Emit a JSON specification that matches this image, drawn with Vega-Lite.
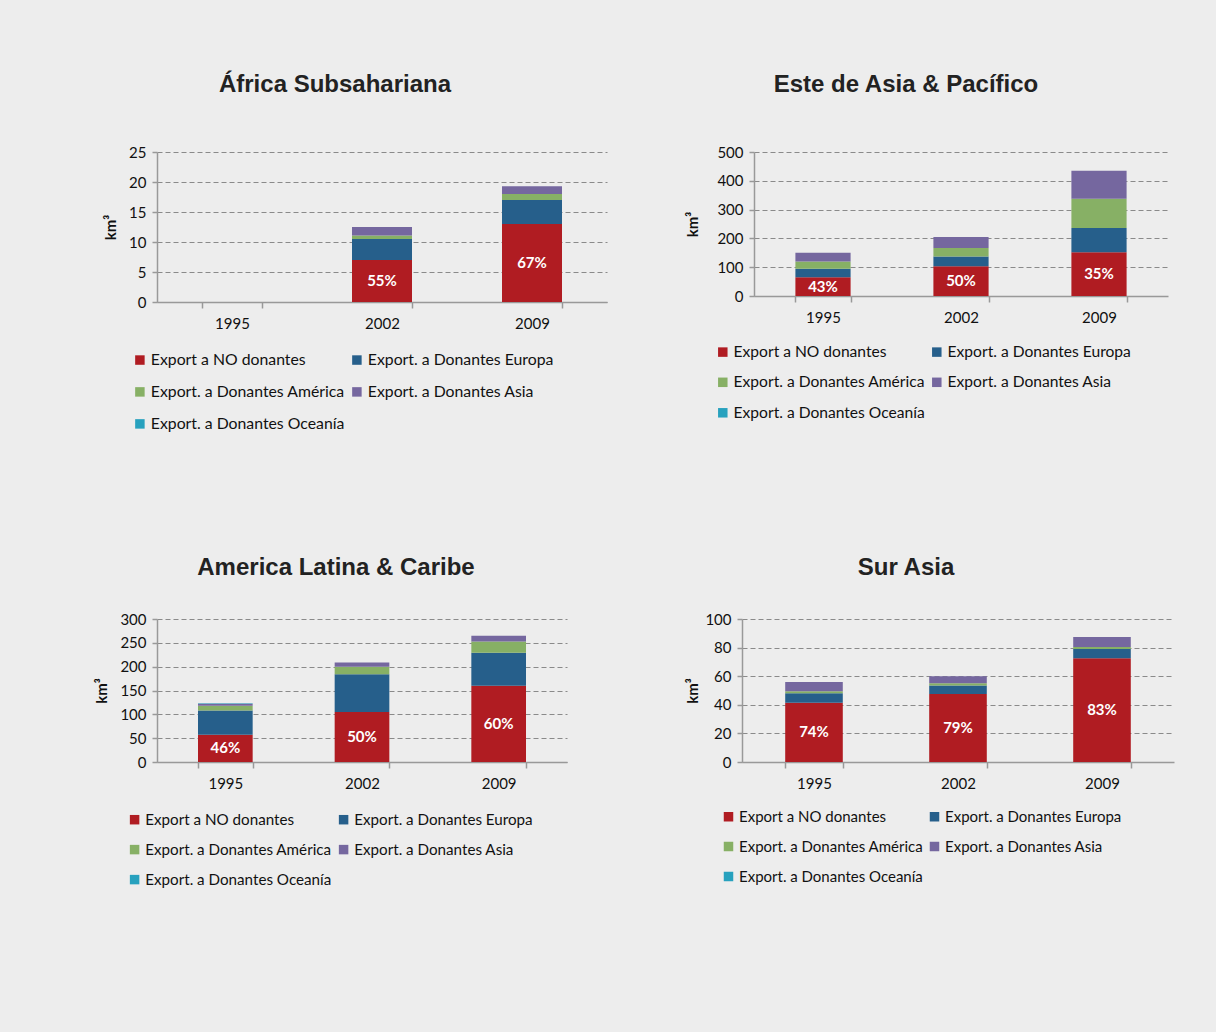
{
  "$schema": "https://vega.github.io/schema/vega-lite/v6.json",
  "background": "#ededed",
  "padding": {"left": 94, "top": 73, "right": 42, "bottom": 148},
  "config": {
    "view": {"stroke": null},
    "font": "Lato",
    "title": {"font": "Liberation Sans", "fontSize": 24, "fontWeight": "bold", "color": "#222222", "anchor": "middle", "offset": 48},
    "axis": {"labelFont": "Lato", "labelFontSize": 15, "labelColor": "#111111", "domainColor": "#999999", "domainWidth": 1.5, "tickColor": "#999999", "tickWidth": 1.5, "titleFont": "Lato", "titleFontSize": 15, "titleFontWeight": "bold", "titleColor": "#111111", "labelOverlap": false},
    "axisX": {"tickBand": "extent", "tickSize": 6, "labelPadding": 8, "grid": false, "labelAngle": 0},
    "axisY": {"grid": true, "gridColor": "#8a8a8a", "gridDash": [5, 3], "gridWidth": 1.2, "tickSize": 5, "labelPadding": 6, "titlePadding": 10},
    "legend": {"orient": "none", "direction": "horizontal", "columns": 2, "symbolType": "square", "symbolSize": 90, "symbolStrokeWidth": 0, "labelFont": "Lato", "labelFontSize": 16, "labelColor": "#111111", "labelOffset": 3, "rowPadding": 15, "columnPadding": 1, "labelLimit": 400}
  },
  "datasets": {
    "d": [
      {"r": "A", "y": "2002", "s": "Export a NO donantes", "k": 1, "v": 7, "p": "55%"},
      {"r": "A", "y": "2002", "s": "Export. a Donantes Europa", "k": 2, "v": 3.5},
      {"r": "A", "y": "2002", "s": "Export. a Donantes América", "k": 3, "v": 0.6},
      {"r": "A", "y": "2002", "s": "Export. a Donantes Asia", "k": 4, "v": 1.4},
      {"r": "A", "y": "2002", "s": "Export. a Donantes  Oceanía", "k": 5, "v": 0},
      {"r": "A", "y": "2009", "s": "Export a NO donantes", "k": 1, "v": 13, "p": "67%"},
      {"r": "A", "y": "2009", "s": "Export. a Donantes Europa", "k": 2, "v": 4},
      {"r": "A", "y": "2009", "s": "Export. a Donantes América", "k": 3, "v": 1},
      {"r": "A", "y": "2009", "s": "Export. a Donantes Asia", "k": 4, "v": 1.3},
      {"r": "A", "y": "2009", "s": "Export. a Donantes  Oceanía", "k": 5, "v": 0},

      {"r": "B", "y": "1995", "s": "Export a NO donantes", "k": 1, "v": 65, "p": "43%"},
      {"r": "B", "y": "1995", "s": "Export. a Donantes Europa", "k": 2, "v": 30},
      {"r": "B", "y": "1995", "s": "Export. a Donantes América", "k": 3, "v": 25},
      {"r": "B", "y": "1995", "s": "Export. a Donantes Asia", "k": 4, "v": 30},
      {"r": "B", "y": "1995", "s": "Export. a Donantes  Oceanía", "k": 5, "v": 0},
      {"r": "B", "y": "2002", "s": "Export a NO donantes", "k": 1, "v": 103, "p": "50%"},
      {"r": "B", "y": "2002", "s": "Export. a Donantes Europa", "k": 2, "v": 34},
      {"r": "B", "y": "2002", "s": "Export. a Donantes América", "k": 3, "v": 30},
      {"r": "B", "y": "2002", "s": "Export. a Donantes Asia", "k": 4, "v": 38},
      {"r": "B", "y": "2002", "s": "Export. a Donantes  Oceanía", "k": 5, "v": 0},
      {"r": "B", "y": "2009", "s": "Export a NO donantes", "k": 1, "v": 152, "p": "35%"},
      {"r": "B", "y": "2009", "s": "Export. a Donantes Europa", "k": 2, "v": 84},
      {"r": "B", "y": "2009", "s": "Export. a Donantes América", "k": 3, "v": 102},
      {"r": "B", "y": "2009", "s": "Export. a Donantes Asia", "k": 4, "v": 97},
      {"r": "B", "y": "2009", "s": "Export. a Donantes  Oceanía", "k": 5, "v": 0},

      {"r": "C", "y": "1995", "s": "Export a NO donantes", "k": 1, "v": 57, "p": "46%"},
      {"r": "C", "y": "1995", "s": "Export. a Donantes Europa", "k": 2, "v": 51},
      {"r": "C", "y": "1995", "s": "Export. a Donantes América", "k": 3, "v": 10},
      {"r": "C", "y": "1995", "s": "Export. a Donantes Asia", "k": 4, "v": 4},
      {"r": "C", "y": "1995", "s": "Export. a Donantes  Oceanía", "k": 5, "v": 1},
      {"r": "C", "y": "2002", "s": "Export a NO donantes", "k": 1, "v": 105, "p": "50%"},
      {"r": "C", "y": "2002", "s": "Export. a Donantes Europa", "k": 2, "v": 79},
      {"r": "C", "y": "2002", "s": "Export. a Donantes América", "k": 3, "v": 16},
      {"r": "C", "y": "2002", "s": "Export. a Donantes Asia", "k": 4, "v": 9},
      {"r": "C", "y": "2002", "s": "Export. a Donantes  Oceanía", "k": 5, "v": 0},
      {"r": "C", "y": "2009", "s": "Export a NO donantes", "k": 1, "v": 160, "p": "60%"},
      {"r": "C", "y": "2009", "s": "Export. a Donantes Europa", "k": 2, "v": 69},
      {"r": "C", "y": "2009", "s": "Export. a Donantes América", "k": 3, "v": 24},
      {"r": "C", "y": "2009", "s": "Export. a Donantes Asia", "k": 4, "v": 12},
      {"r": "C", "y": "2009", "s": "Export. a Donantes  Oceanía", "k": 5, "v": 0},

      {"r": "D", "y": "1995", "s": "Export a NO donantes", "k": 1, "v": 41.5, "p": "74%"},
      {"r": "D", "y": "1995", "s": "Export. a Donantes Europa", "k": 2, "v": 6.5},
      {"r": "D", "y": "1995", "s": "Export. a Donantes América", "k": 3, "v": 1.5},
      {"r": "D", "y": "1995", "s": "Export. a Donantes Asia", "k": 4, "v": 6.5},
      {"r": "D", "y": "1995", "s": "Export. a Donantes  Oceanía", "k": 5, "v": 0},
      {"r": "D", "y": "2002", "s": "Export a NO donantes", "k": 1, "v": 47.5, "p": "79%"},
      {"r": "D", "y": "2002", "s": "Export. a Donantes Europa", "k": 2, "v": 6},
      {"r": "D", "y": "2002", "s": "Export. a Donantes América", "k": 3, "v": 1.5},
      {"r": "D", "y": "2002", "s": "Export. a Donantes Asia", "k": 4, "v": 5},
      {"r": "D", "y": "2002", "s": "Export. a Donantes  Oceanía", "k": 5, "v": 0},
      {"r": "D", "y": "2009", "s": "Export a NO donantes", "k": 1, "v": 72.5, "p": "83%"},
      {"r": "D", "y": "2009", "s": "Export. a Donantes Europa", "k": 2, "v": 6.5},
      {"r": "D", "y": "2009", "s": "Export. a Donantes América", "k": 3, "v": 1.5},
      {"r": "D", "y": "2009", "s": "Export. a Donantes Asia", "k": 4, "v": 7},
      {"r": "D", "y": "2009", "s": "Export. a Donantes  Oceanía", "k": 5, "v": 0}
    ]
  },
  "data": {"name": "d"},
  "resolve": {"scale": {"x": "independent", "y": "independent", "color": "independent"}, "legend": {"color": "independent"}},
  "columns": 2,
  "align": "none",
  "spacing": {"row": 124, "column": 78},
  "concat": [
    {
      "title": {"text": "África Subsahariana", "dx": -47},
      "width": 450, "height": 150,
      "transform": [{"filter": "datum.r == 'A'"}],
      "encoding": {"x": {"field": "y", "type": "nominal", "title": null, "scale": {"domain": ["1995", "2002", "2009"], "paddingInner": 0.6, "paddingOuter": 0.3}}},
      "layer": [
        {"mark": {"type": "bar"},
         "encoding": {
           "y": {"field": "v", "type": "quantitative", "title": "km³", "scale": {"domain": [0, 25], "nice": false}, "axis": {"values": [0, 5, 10, 15, 20, 25]}},
           "color": {"field": "s", "type": "nominal", "scale": {"domain": ["Export a NO donantes", "Export. a Donantes Europa", "Export. a Donantes América", "Export. a Donantes Asia", "Export. a Donantes  Oceanía"], "range": ["#b01c22", "#265f8b", "#87b065", "#75679f", "#27a1be"]}, "legend": {"title": null, "legendX": -25, "legendY": 200, "labelFontSize": 15.8, "columnPadding": 0, "rowPadding": 15}},
           "order": {"field": "k", "type": "quantitative"}}},
        {"transform": [{"filter": "datum.p != null"}],
         "mark": {"type": "text", "color": "white", "fontWeight": "bold", "fontSize": 15, "font": "Lato", "baseline": "middle"},
         "encoding": {
           "y": {"field": "v", "type": "quantitative", "stack": "zero", "bandPosition": 0.5, "title": "km³", "axis": {"values": [0, 5, 10, 15, 20, 25]}},
           "detail": {"field": "s"},
           "text": {"field": "p"}}}
      ]
    },
    {
      "title": {"text": "Este de Asia & Pacífico", "dx": -55},
      "width": 414, "height": 144,
      "transform": [{"filter": "datum.r == 'B'"}],
      "encoding": {"x": {"field": "y", "type": "nominal", "title": null, "scale": {"domain": ["1995", "2002", "2009"], "paddingInner": 0.6, "paddingOuter": 0.3}}},
      "layer": [
        {"mark": {"type": "bar"},
         "encoding": {
           "y": {"field": "v", "type": "quantitative", "title": "km³", "scale": {"domain": [0, 500], "nice": false}, "axis": {"values": [0, 100, 200, 300, 400, 500], "titlePadding": 16}},
           "color": {"field": "s", "type": "nominal", "scale": {"domain": ["Export a NO donantes", "Export. a Donantes Europa", "Export. a Donantes América", "Export. a Donantes Asia", "Export. a Donantes  Oceanía"], "range": ["#b01c22", "#265f8b", "#87b065", "#75679f", "#27a1be"]}, "legend": {"title": null, "legendX": -39, "legendY": 192, "labelFontSize": 15.6, "columnPadding": -1, "rowPadding": 13.5}},
           "order": {"field": "k", "type": "quantitative"}}},
        {"transform": [{"filter": "datum.p != null"}],
         "mark": {"type": "text", "color": "white", "fontWeight": "bold", "fontSize": 15, "font": "Lato", "baseline": "middle"},
         "encoding": {
           "y": {"field": "v", "type": "quantitative", "stack": "zero", "bandPosition": 0.5, "title": "km³", "axis": {"values": [0, 100, 200, 300, 400, 500], "titlePadding": 16}},
           "detail": {"field": "s"},
           "text": {"field": "p"}}}
      ]
    },
    {
      "title": {"text": "America Latina & Caribe", "dx": -26, "offset": 32},
      "width": 410, "height": 143,
      "transform": [{"filter": "datum.r == 'C'"}],
      "encoding": {"x": {"field": "y", "type": "nominal", "title": null, "scale": {"domain": ["1995", "2002", "2009"], "paddingInner": 0.6, "paddingOuter": 0.3}}},
      "layer": [
        {"mark": {"type": "bar"},
         "encoding": {
           "y": {"field": "v", "type": "quantitative", "title": "km³", "scale": {"domain": [0, 300], "nice": false}, "axis": {"values": [0, 50, 100, 150, 200, 250, 300]}},
           "color": {"field": "s", "type": "nominal", "scale": {"domain": ["Export a NO donantes", "Export. a Donantes Europa", "Export. a Donantes América", "Export. a Donantes Asia", "Export. a Donantes  Oceanía"], "range": ["#b01c22", "#265f8b", "#87b065", "#75679f", "#27a1be"]}, "legend": {"title": null, "legendX": -30, "legendY": 193, "labelFontSize": 15.2, "columnPadding": -4, "rowPadding": 14}},
           "order": {"field": "k", "type": "quantitative"}}},
        {"transform": [{"filter": "datum.p != null"}],
         "mark": {"type": "text", "color": "white", "fontWeight": "bold", "fontSize": 15, "font": "Lato", "baseline": "middle"},
         "encoding": {
           "y": {"field": "v", "type": "quantitative", "stack": "zero", "bandPosition": 0.5, "title": "km³", "axis": {"values": [0, 50, 100, 150, 200, 250, 300]}},
           "detail": {"field": "s"},
           "text": {"field": "p"}}}
      ]
    },
    {
      "title": {"text": "Sur Asia", "dx": -52, "offset": 32},
      "width": 432, "height": 143,
      "transform": [{"filter": "datum.r == 'D'"}],
      "encoding": {"x": {"field": "y", "type": "nominal", "title": null, "scale": {"domain": ["1995", "2002", "2009"], "paddingInner": 0.6, "paddingOuter": 0.3}}},
      "layer": [
        {"mark": {"type": "bar"},
         "encoding": {
           "y": {"field": "v", "type": "quantitative", "title": "km³", "scale": {"domain": [0, 100], "nice": false}, "axis": {"values": [0, 20, 40, 60, 80, 100], "titlePadding": 4}},
           "color": {"field": "s", "type": "nominal", "scale": {"domain": ["Export a NO donantes", "Export. a Donantes Europa", "Export. a Donantes América", "Export. a Donantes Asia", "Export. a Donantes  Oceanía"], "range": ["#b01c22", "#265f8b", "#87b065", "#75679f", "#27a1be"]}, "legend": {"title": null, "legendX": -21, "legendY": 190, "labelFontSize": 15, "columnPadding": 0, "rowPadding": 14}},
           "order": {"field": "k", "type": "quantitative"}}},
        {"transform": [{"filter": "datum.p != null"}],
         "mark": {"type": "text", "color": "white", "fontWeight": "bold", "fontSize": 15, "font": "Lato", "baseline": "middle"},
         "encoding": {
           "y": {"field": "v", "type": "quantitative", "stack": "zero", "bandPosition": 0.5, "title": "km³", "axis": {"values": [0, 20, 40, 60, 80, 100], "titlePadding": 4}},
           "detail": {"field": "s"},
           "text": {"field": "p"}}}
      ]
    }
  ]
}
